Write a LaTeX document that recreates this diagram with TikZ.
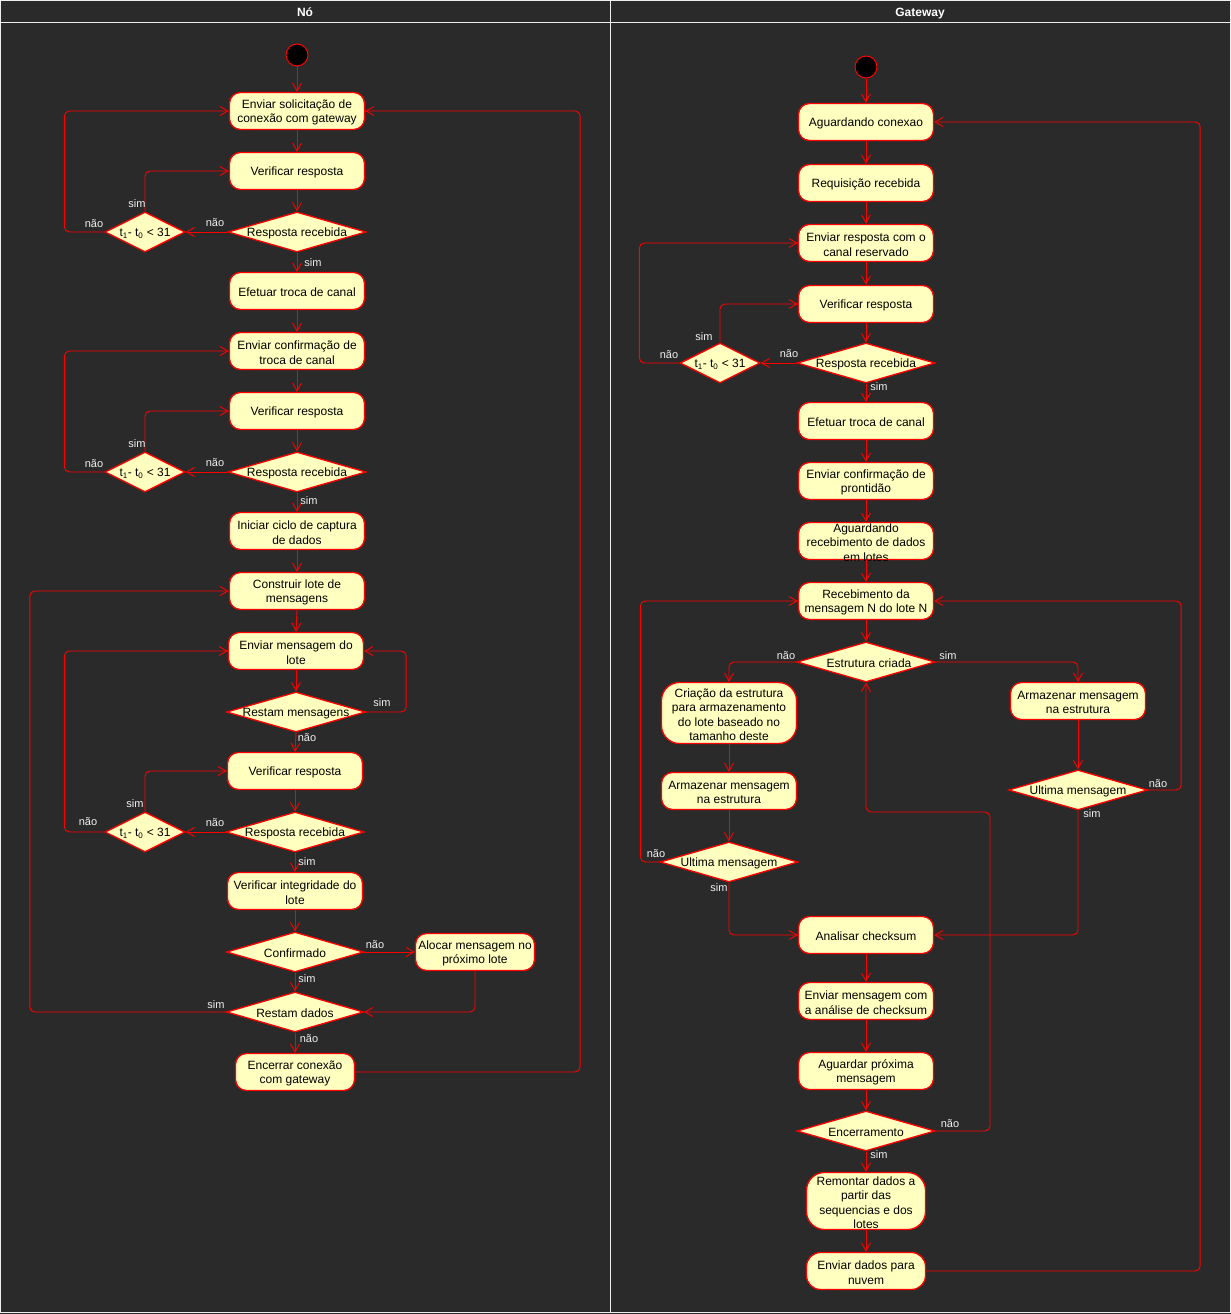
\documentclass[tikz,border=0pt]{standalone}
\usepackage{fontspec}
\setmainfont{Liberation Sans}
\usetikzlibrary{arrows.meta,shapes.geometric,calc}
\definecolor{bg}{HTML}{2A2A2A}
\definecolor{lnr}{HTML}{FF0000}
\definecolor{nfill}{HTML}{FFFFC0}
\definecolor{lbl}{HTML}{F0F0F0}
\definecolor{lane}{HTML}{EEEEEE}
\pgfdeclarelayer{fg}
\pgfsetlayers{main,fg}
\newcommand\decis[4]{\node[dia,minimum width=#3] (#1) at (#2) {}; \begin{pgfonlayer}{fg}\node[txt] (#1t) at ([yshift=-1.2pt]#1.center) {#4};\end{pgfonlayer}}
\newcommand\actn[4][]{\node[act,#1] (#2) at (#3) {}; \begin{pgfonlayer}{fg}\node[txt] (#2t) at ([yshift=-1.5pt]#2.center) {#4};\end{pgfonlayer}}
\newcommand\tcond{t\textsubscript{1}- t\textsubscript{0} < 31}
\begin{document}
\begin{tikzpicture}[x=1pt,y=-1pt,
  act/.style={draw=lnr, line width=1.3pt, fill=nfill, rounded corners=11pt, minimum width=135pt, minimum height=37pt, inner sep=0pt},
  dia/.style={draw=lnr, line width=1.3pt, fill=nfill, diamond, minimum width=138pt, minimum height=40pt, inner sep=0pt},
  txt/.style={align=center, font=\fontsize{12}{14.5}\selectfont, text=black, inner sep=0pt},
  flow/.style={draw=lnr, line width=0.9pt, rounded corners=5pt, -{Straight Barb[length=8pt,width=9pt]}},
  el/.style={font=\fontsize{11}{13}\selectfont, text=lbl, inner sep=0pt},
  startnode/.style={circle, fill=black, draw=lnr, line width=1pt, minimum size=22pt, inner sep=0pt},
  hdr/.style={font=\fontsize{12}{14}\selectfont\bfseries, text=white, inner sep=0pt, anchor=base},
]
% background and lanes
\fill[bg] (0,0) rectangle (1231,1314);
\draw[lane, line width=1pt] (0.5,0.5) rectangle (1230.5,1312.5);
\draw[lane, line width=1pt] (0.5,23) -- (1230.5,23);
\draw[lane, line width=1pt] (610.5,0.5) -- (610.5,1312.5);
\node[hdr] (h1) at (305,16.5) {Nó};
\node[hdr] (h2) at (920,16.5) {Gateway};

% ---------- Nó ----------
\node[startnode] (s1) at (297,55) {};
\actn{n1}{297,111}{Enviar solicitação de\\conexão com gateway}
\actn{n2}{297,171}{Verificar resposta}
\decis{n3}{297,232}{138}{Resposta recebida}
\decis{n4}{145,232}{80}{\tcond}
\actn{n5}{297,291}{Efetuar troca de canal}
\actn{n6}{297,351}{Enviar confirmação de\\troca de canal}
\actn{n7}{297,411}{Verificar resposta}
\decis{n8}{297,472}{138}{Resposta recebida}
\decis{n9}{145,472}{80}{\tcond}
\actn{n10}{297,531}{Iniciar ciclo de captura\\de dados}
\actn{n11}{297,591}{Construir lote de\\mensagens}
\actn{n12}{296,651}{Enviar mensagem do\\lote}
\decis{n13}{296,712}{139}{Restam mensagens}
\actn{n14}{295,771}{Verificar resposta}
\decis{n15}{295,832}{138}{Resposta recebida}
\decis{n16}{145,832}{80}{\tcond}
\actn{n17}{295,891}{Verificar integridade do\\lote}
\decis{n18}{295,952}{137}{Confirmado}
\actn[minimum width=119pt]{n19}{475,952}{Alocar mensagem no\\próximo lote}
\decis{n20}{295,1012}{137}{Restam dados}
\actn[minimum width=119pt]{n21}{295,1072}{Encerrar conexão\\com gateway}

\draw[flow] (s1.south) -- (n1.north);
\draw[flow] (n1.south) -- (n2.north);
\draw[flow] (n2.south) -- (n3.north);
\draw[flow] (n3.west) -- (n4.east);
\draw[flow] (n4.north) |- (n2.west);
\draw[flow] (n4.west) -- ++(-40,0) |- (n1.west);
\draw[flow] (n3.south) -- (n5.north);
\draw[flow] (n5.south) -- (n6.north);
\draw[flow] (n6.south) -- (n7.north);
\draw[flow] (n7.south) -- (n8.north);
\draw[flow] (n8.west) -- (n9.east);
\draw[flow] (n9.north) |- (n7.west);
\draw[flow] (n9.west) -- ++(-40,0) |- (n6.west);
\draw[flow] (n8.south) -- (n10.north);
\draw[flow] (n10.south) -- (n11.north);
\draw[flow] (n11.south) -- (n12.north);
\draw[flow] (n12.south) -- (n13.north);
\draw[flow] (n13.east) -- ++(40,0) |- (n12.east);
\draw[flow] (n13.south) -- (n14.north);
\draw[flow] (n14.south) -- (n15.north);
\draw[flow] (n15.west) -- (n16.east);
\draw[flow] (n16.north) |- (n14.west);
\draw[flow] (n16.west) -- ++(-40,0) |- (n12.west);
\draw[flow] (n15.south) -- (n17.north);
\draw[flow] (n17.south) -- (n18.north);
\draw[flow] (n18.east) -- (n19.west);
\draw[flow] (n18.south) -- (n20.north);
\draw[flow] (n19.south) |- (n20.east);
\draw[flow] (n20.west) -- ++(-196,0) |- (n11.west);
\draw[flow] (n20.south) -- (n21.north);
\draw[flow] (n21.east) -- ++(225,0) |- (n1.east);

\node[el] (l1) at (94,224) {não};
\node[el] (l2) at (137,204) {sim};
\node[el] (l3) at (215,223) {não};
\node[el] (l4) at (313,263) {sim};
\node[el] (l5) at (137,444) {sim};
\node[el] (l6) at (94,464) {não};
\node[el] (l7) at (215,463) {não};
\node[el] (l8) at (309,501) {sim};
\node[el] (l9) at (382,703) {sim};
\node[el] (l10) at (307,738) {não};
\node[el] (l11) at (135,804) {sim};
\node[el] (l12) at (88,822) {não};
\node[el] (l13) at (215,823) {não};
\node[el] (l14) at (307,862) {sim};
\node[el] (l15) at (375,945) {não};
\node[el] (l16) at (307,979) {sim};
\node[el] (l17) at (216,1005) {sim};
\node[el] (l18) at (309,1039) {não};

% ---------- Gateway ----------
\node[startnode] (s2) at (866,67) {};
\actn{g1}{866,122}{Aguardando conexao}
\actn{g2}{866,183}{Requisição recebida}
\actn{g3}{866,243}{Enviar resposta com o\\canal reservado}
\actn{g4}{866,304}{Verificar resposta}
\decis{g5}{866,363}{138}{Resposta recebida}
\decis{g6}{720,363}{80}{\tcond}
\actn{g7}{866,421}{Efetuar troca de canal}
\actn{g8}{866,481}{Enviar confirmação de\\prontidão}
\actn{g9}{866,541}{Aguardando\\recebimento de dados\\em lotes}
\actn{g10}{866,601}{Recebimento da\\mensagem N do lote N}
\node[dia] (g11) at (866,662) {};
\begin{pgfonlayer}{fg}\node[txt] (g11t) at (869,663) {Estrutura criada};\end{pgfonlayer}
\actn[minimum height=61pt, rounded corners=18pt]{g12}{729,713}{Criação da estrutura\\para armazenamento\\do lote baseado no\\tamanho deste}
\actn{g13}{729,791}{Armazenar mensagem\\na estrutura}
\decis{g14}{729,862}{138}{Ultima mensagem}
\actn{g15}{1078,701}{Armazenar mensagem\\na estrutura}
\decis{g16}{1078,790}{139}{Ultima mensagem}
\actn{g17}{866,935}{Analisar checksum}
\actn{g18}{866,1001}{Enviar mensagem com\\a análise de checksum}
\actn{g19}{866,1071}{Aguardar próxima\\mensagem}
\decis{g20}{866,1131}{138}{Encerramento}
\actn[minimum width=119pt, minimum height=57pt, rounded corners=18pt]{g21}{866,1201}{Remontar dados a\\partir das\\sequencias e dos\\lotes}
\actn[minimum width=119pt, rounded corners=14pt]{g22}{866,1271}{Enviar dados para\\nuvem}
\coordinate (gk) at (990,812);

\draw[flow] (s2.south) -- (g1.north);
\draw[flow] (g1.south) -- (g2.north);
\draw[flow] (g2.south) -- (g3.north);
\draw[flow] (g3.south) -- (g4.north);
\draw[flow] (g4.south) -- (g5.north);
\draw[flow] (g5.west) -- (g6.east);
\draw[flow] (g6.north) |- (g4.west);
\draw[flow] (g6.west) -- ++(-40,0) |- (g3.west);
\draw[flow] (g5.south) -- (g7.north);
\draw[flow] (g7.south) -- (g8.north);
\draw[flow] (g8.south) -- (g9.north);
\draw[flow] (g9.south) -- (g10.north);
\draw[flow] (g10.south) -- (g11.north);
\draw[flow] (g11.west) -| (g12.north);
\draw[flow] (g11.east) -| (g15.north);
\draw[flow] (g12.south) -- (g13.north);
\draw[flow] (g13.south) -- (g14.north);
\draw[flow] (g14.west) -- ++(-19,0) |- (g10.west);
\draw[flow] (g14.south) |- (g17.west);
\draw[flow] (g15.south) -- (g16.north);
\draw[flow] (g16.east) -- ++(33,0) |- (g10.east);
\draw[flow] (g16.south) |- (g17.east);
\draw[flow] (g17.south) -- (g18.north);
\draw[flow] (g18.south) -- (g19.north);
\draw[flow] (g19.south) -- (g20.north);
\draw[flow] (g20.east) -| (gk) -| (g11.south);
\draw[flow] (g20.south) -- (g21.north);
\draw[flow] (g21.south) -- (g22.north);
\draw[flow] (g22.east) -- ++(274,0) |- (g1.east);

\node[el] (m1) at (704,337) {sim};
\node[el] (m2) at (669,355) {não};
\node[el] (m3) at (789,354) {não};
\node[el] (m4) at (879,387) {sim};
\node[el] (m5) at (786,656) {não};
\node[el] (m6) at (948,656) {sim};
\node[el] (m7) at (656,854) {não};
\node[el] (m8) at (719,888) {sim};
\node[el] (m9) at (1158,784) {não};
\node[el] (m10) at (1092,814) {sim};
\node[el] (m11) at (950,1124) {não};
\node[el] (m12) at (879,1155) {sim};
\end{tikzpicture}
\end{document}
